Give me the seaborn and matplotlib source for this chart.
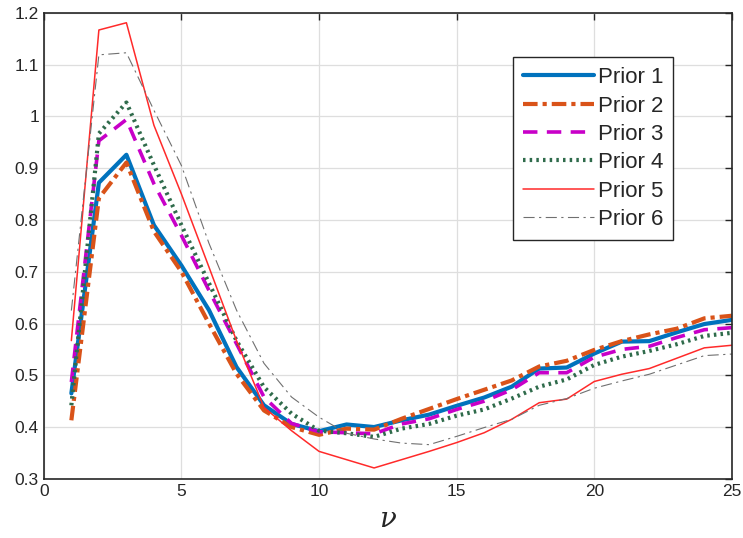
import numpy as np
import pandas as pd
import matplotlib
matplotlib.use("Agg")
import matplotlib.pyplot as plt
import seaborn as sns

nu = list(range(1, 26))

prior1 = [0.465, 0.872, 0.926, 0.790, 0.712, 0.626, 0.516, 0.442, 0.406, 0.392,
          0.405, 0.400, 0.413, 0.424, 0.441, 0.457, 0.478, 0.513, 0.515, 0.542,
          0.565, 0.566, 0.583, 0.599, 0.607]
prior2 = [0.413, 0.842, 0.911, 0.778, 0.700, 0.600, 0.503, 0.432, 0.400, 0.385,
          0.397, 0.395, 0.416, 0.435, 0.454, 0.472, 0.490, 0.517, 0.528, 0.549,
          0.566, 0.579, 0.590, 0.610, 0.615]
prior3 = [0.487, 0.953, 0.994, 0.870, 0.770, 0.664, 0.561, 0.458, 0.407, 0.391,
          0.389, 0.387, 0.406, 0.416, 0.434, 0.450, 0.472, 0.505, 0.505, 0.535,
          0.550, 0.556, 0.573, 0.588, 0.592]
prior4 = [0.442, 0.967, 1.027, 0.906, 0.790, 0.678, 0.567, 0.477, 0.426, 0.393,
          0.388, 0.381, 0.397, 0.406, 0.422, 0.434, 0.455, 0.478, 0.492, 0.520,
          0.536, 0.547, 0.560, 0.576, 0.582]
prior5 = [0.567, 1.167, 1.181, 0.983, 0.850, 0.709, 0.567, 0.438, 0.393, 0.353,
          0.337, 0.321, 0.337, 0.353, 0.370, 0.389, 0.415, 0.447, 0.454, 0.488,
          0.502, 0.513, 0.533, 0.553, 0.558]
prior6 = [0.625, 1.119, 1.123, 1.012, 0.905, 0.755, 0.626, 0.523, 0.458, 0.419,
          0.388, 0.377, 0.369, 0.366, 0.382, 0.399, 0.415, 0.442, 0.455, 0.475,
          0.489, 0.502, 0.520, 0.538, 0.541]

names = ["Prior 1", "Prior 2", "Prior 3", "Prior 4", "Prior 5", "Prior 6"]
series = [prior1, prior2, prior3, prior4, prior5, prior6]

df = pd.concat([pd.DataFrame({"nu": nu, "val": s, "prior": n})
                for n, s in zip(names, series)], ignore_index=True)

colors = {"Prior 1": "#0072BD", "Prior 2": "#D95319", "Prior 3": "#C800C8",
          "Prior 4": "#2F6B4B", "Prior 5": "#FF2A2A", "Prior 6": "#707070"}
widths = {"Prior 1": 3.0, "Prior 2": 3.0, "Prior 3": 2.6,
          "Prior 4": 3.0, "Prior 5": 1.1, "Prior 6": 0.8}
dashes = {"Prior 1": "", "Prior 2": (3.5, 1.2, 1, 1.2), "Prior 3": (4, 2.6),
          "Prior 4": (0.6, 1.0), "Prior 5": "", "Prior 6": (10, 4, 2, 4)}

sns.set_style("white")
plt.rcParams["font.family"] = ["Liberation Sans", "DejaVu Sans"]

fig = plt.figure(figsize=(7.43, 5.38), dpi=100)
ax = fig.add_axes([0.059, 0.110, 0.926, 0.866])

sns.lineplot(data=df, x="nu", y="val", hue="prior", style="prior", size="prior",
             palette=colors, dashes=dashes, sizes=widths, ax=ax, legend=False)

ax.set_xlim(0, 25)
ax.set_ylim(0.3, 1.2)
ax.set_xticks([0, 5, 10, 15, 20, 25])
ax.set_yticks(np.round(np.arange(0.3, 1.21, 0.1), 1))
ax.set_yticklabels(["0.3", "0.4", "0.5", "0.6", "0.7", "0.8", "0.9", "1", "1.1", "1.2"])
ax.grid(True, color="#dedede", linewidth=0.9)
ax.tick_params(direction="in", top=True, right=True, length=5, width=1,
               labelsize=12.5, colors="#262626")
for sp in ax.spines.values():
    sp.set_color("#262626")
    sp.set_linewidth(1.2)
ax.set_ylabel("")
ax.set_xlabel("ν", fontsize=20, family="DejaVu Serif", style="italic", labelpad=5)

handles = []
for n in names:
    h = plt.Line2D([], [], color=colors[n], linewidth=widths[n])
    if dashes[n]:
        h.set_dashes(dashes[n])
    handles.append(h)
leg = ax.legend(handles, names, loc="upper left", bbox_to_anchor=(0.682, 0.905),
                fontsize=16, handlelength=3.2, handletextpad=0.15,
                labelspacing=0.33, borderpad=0.45, borderaxespad=0,
                fancybox=False, framealpha=1)
leg.get_frame().set_edgecolor("#262626")
leg.get_frame().set_linewidth(1.0)

fig.savefig("out.png", dpi=100)
